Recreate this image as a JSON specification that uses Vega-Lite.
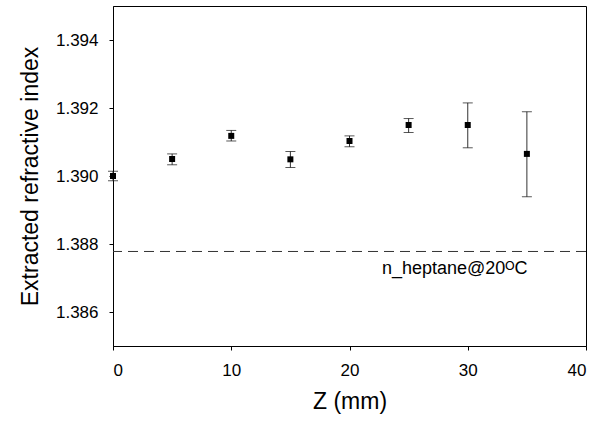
{
  "$schema": "https://vega.github.io/schema/vega-lite/v6.json",
  "width": 473,
  "height": 340,
  "autosize": {"type": "none"},
  "padding": {"left": 113, "top": 6, "right": 19, "bottom": 79},
  "background": "white",
  "config": {
    "font": "Liberation Sans",
    "view": {"stroke": "black", "strokeWidth": 1},
    "axis": {
      "grid": false,
      "domainColor": "black",
      "tickColor": "black",
      "tickSize": 4,
      "labelColor": "black",
      "titleColor": "black",
      "labelFontSize": 17,
      "titleFontSize": 23,
      "titleFontWeight": "normal",
      "labelFont": "Liberation Sans",
      "titleFont": "Liberation Sans"
    }
  },
  "datasets": {
    "pts": [
      {"z": 0, "n": 1.3900, "lo": 1.38986, "hi": 1.39014},
      {"z": 5, "n": 1.3905, "lo": 1.39033, "hi": 1.39065},
      {"z": 10, "n": 1.39118, "lo": 1.39103, "hi": 1.39134},
      {"z": 15, "n": 1.39049, "lo": 1.39025, "hi": 1.39072},
      {"z": 20, "n": 1.39103, "lo": 1.39086, "hi": 1.39118},
      {"z": 25, "n": 1.3915, "lo": 1.39128, "hi": 1.39169},
      {"z": 30, "n": 1.3915, "lo": 1.39083, "hi": 1.39215},
      {"z": 35, "n": 1.39065, "lo": 1.38939, "hi": 1.39189}
    ],
    "ref": [{"n": 1.38778}],
    "lab": [{"z": 28.9, "n": 1.38713, "t": "n_heptane@20ᴼC"}]
  },
  "layer": [
    {
      "data": {"name": "ref"},
      "mark": {"type": "rule", "color": "#333", "strokeWidth": 1, "strokeDash": [10, 6]},
      "encoding": {
        "y": {"field": "n", "type": "quantitative", "scale": {"domain": [1.385, 1.395]}}
      }
    },
    {
      "data": {"name": "pts"},
      "mark": {"type": "rule", "color": "#333", "strokeWidth": 1},
      "encoding": {
        "x": {"field": "z", "type": "quantitative"},
        "y": {"field": "lo", "type": "quantitative"},
        "y2": {"field": "hi"}
      }
    },
    {
      "data": {"name": "pts"},
      "mark": {"type": "tick", "orient": "horizontal", "color": "#111", "size": 10, "thickness": 1},
      "encoding": {
        "x": {"field": "z", "type": "quantitative"},
        "y": {"field": "lo", "type": "quantitative"}
      }
    },
    {
      "data": {"name": "pts"},
      "mark": {"type": "tick", "orient": "horizontal", "color": "#111", "size": 10, "thickness": 1},
      "encoding": {
        "x": {"field": "z", "type": "quantitative"},
        "y": {"field": "hi", "type": "quantitative"}
      }
    },
    {
      "data": {"name": "pts"},
      "mark": {"type": "point", "shape": "square", "filled": true, "color": "black", "size": 36, "opacity": 1},
      "encoding": {
        "x": {
          "field": "z", "type": "quantitative",
          "scale": {"domain": [0, 40], "nice": false},
          "axis": {"values": [0, 10, 20, 30, 40], "title": "Z (mm)", "labelPadding": 12, "titlePadding": 12}
        },
        "y": {
          "field": "n", "type": "quantitative",
          "scale": {"domain": [1.385, 1.395], "nice": false, "zero": false},
          "axis": {"values": [1.386, 1.388, 1.39, 1.392, 1.394], "format": ".3f", "title": "Extracted refractive index", "labelPadding": 11, "titlePadding": 13}
        }
      }
    },
    {
      "data": {"name": "lab"},
      "mark": {"type": "text", "fontSize": 18, "color": "black", "align": "center", "baseline": "alphabetic", "font": "Liberation Sans"},
      "encoding": {
        "x": {"field": "z", "type": "quantitative"},
        "y": {"field": "n", "type": "quantitative"},
        "text": {"field": "t"}
      }
    }
  ]
}
